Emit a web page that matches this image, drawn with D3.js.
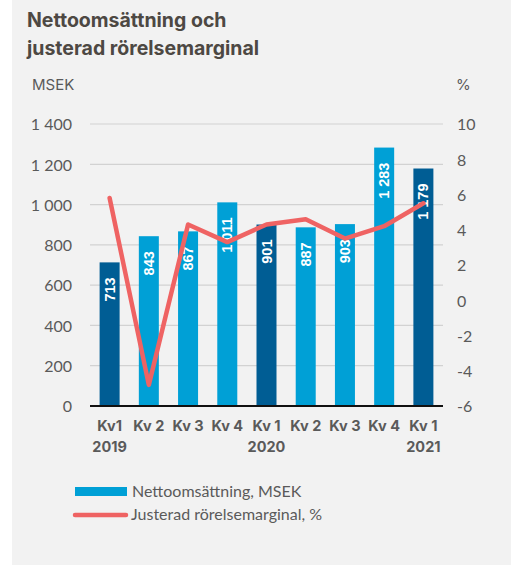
<!DOCTYPE html>
<html lang="sv">
<head>
<meta charset="UTF-8">
<title>Nettoomsättning och justerad rörelsemarginal</title>
<script src="https://cdnjs.cloudflare.com/ajax/libs/d3/7.8.5/d3.min.js"></script>
<style>
  body { margin: 0; background: #fff; }
  svg { display: block; }
  .tick text { font-family: Lato, "Open Sans", sans-serif; }
</style>
</head>
<body>
<svg width="511" height="565"></svg>
<script>
// data
var quarters = ["Kv1", "Kv 2", "Kv 3", "Kv 4", "Kv 1", "Kv 2", "Kv 3", "Kv 4", "Kv 1"];
var years = ["2019", "", "", "", "2020", "", "", "", "2021"];
var sales = [713, 843, 867, 1011, 901, 887, 903, 1283, 1179];
var salesLabels = ["713", "843", "867", "1 011", "901", "887", "903", "1 283", "1 179"];
var margin = [5.8, -4.8, 4.3, 3.3, 4.3, 4.6, 3.5, 4.2, 5.5];
var leftTicks = [0, 200, 400, 600, 800, 1000, 1200, 1400];
var rightTicks = [-6, -4, -2, 0, 2, 4, 6, 8, 10];

var svg = d3.select("svg");
var textColor = "#5a5a5a";

// panel background
svg.append("rect")
  .attr("x", 12).attr("y", 0)
  .attr("width", 499).attr("height", 565)
  .attr("fill", "#f2f2f2");

// title
var title = svg.append("text")
  .attr("font-family", "Inter, sans-serif")
  .attr("font-weight", "bold")
  .attr("font-size", 19.5)
  .attr("fill", "#4d4843");
title.append("tspan").attr("x", 27).attr("y", 27).text("Nettoomsättning och");
title.append("tspan").attr("x", 27).attr("y", 55).text("justerad rörelsemarginal");

var plotL = 90, plotR = 443, plotT = 124, plotB = 406;

var x = d3.scaleBand().domain(d3.range(quarters.length)).range([plotL, plotR]).paddingInner(0.49).paddingOuter(0.245);
var y = d3.scaleLinear().domain([0, 1400]).range([plotB, plotT]);
var y2 = d3.scaleLinear().domain([-6, 10]).range([plotB, plotT]);

// unit labels
svg.append("text").attr("x", 32).attr("y", 90)
  .attr("font-family", "Inter, sans-serif").attr("font-size", 15)
  .attr("fill", textColor).text("MSEK");
svg.append("text").attr("x", 456).attr("y", 90)
  .attr("font-family", "Inter, sans-serif").attr("font-size", 15)
  .attr("fill", textColor).text("%");

// gridlines
svg.append("g").selectAll("line")
  .data(leftTicks.slice(1))
  .join("line")
  .attr("x1", plotL).attr("x2", plotR)
  .attr("y1", d => y(d)).attr("y2", d => y(d))
  .attr("stroke", "#d2d2d2").attr("stroke-width", 1.2);

// left axis
var leftAxis = svg.append("g")
  .attr("transform", "translate(" + 72 + ",0)")
  .call(d3.axisLeft(y).tickValues(leftTicks).tickSize(0).tickPadding(0)
    .tickFormat(d => d3.format(",")(d).replace(",", " ")));
leftAxis.select(".domain").remove();
leftAxis.selectAll("text").attr("font-size", 16).attr("fill", textColor).attr("dy", "0.36em");

// right axis
var rightAxis = svg.append("g")
  .attr("transform", "translate(" + 457 + ",0)")
  .call(d3.axisRight(y2).tickValues(rightTicks).tickSize(0).tickPadding(0)
    .tickFormat(d => String(d)));
rightAxis.select(".domain").remove();
rightAxis.selectAll("text").attr("font-size", 16).attr("fill", textColor).attr("dy", "0.36em");

// bars
svg.append("g").selectAll("rect")
  .data(sales)
  .join("rect")
  .attr("x", (d, i) => x(i))
  .attr("y", d => y(d))
  .attr("width", x.bandwidth())
  .attr("height", d => plotB - y(d))
  .attr("fill", (d, i) => i % 4 === 0 ? "#005d94" : "#00a0d6");

// bar labels
svg.append("g").selectAll("text")
  .data(sales)
  .join("text")
  .attr("transform", (d, i) => "translate(" + (x(i) + x.bandwidth() / 2 + 5) + "," + (y(d) + 15) + ") rotate(-90)")
  .attr("text-anchor", "end")
  .attr("font-family", "Liberation Sans, Arial, sans-serif")
  .attr("font-weight", "bold")
  .attr("font-size", 14.5)
  .attr("fill", "#fff")
  .text((d, i) => salesLabels[i]);

// x axis line
svg.append("line")
  .attr("x1", plotL).attr("x2", plotR)
  .attr("y1", plotB).attr("y2", plotB)
  .attr("stroke", "#111").attr("stroke-width", 2);

// category labels
var cx = i => x(i) + x.bandwidth() / 2;
svg.append("g").selectAll("text")
  .data(quarters)
  .join("text")
  .attr("x", (d, i) => cx(i)).attr("y", 431)
  .attr("text-anchor", "middle")
  .attr("font-family", "Inter, sans-serif").attr("font-weight", "bold")
  .attr("font-size", 14.5).attr("fill", textColor)
  .text(d => d);
svg.append("g").selectAll("text")
  .data(years)
  .join("text")
  .attr("x", (d, i) => cx(i)).attr("y", 452)
  .attr("text-anchor", "middle")
  .attr("font-family", "Inter, sans-serif").attr("font-weight", "bold")
  .attr("font-size", 14.5).attr("fill", textColor)
  .text(d => d);

// margin line
var line = d3.line().x((d, i) => cx(i)).y(d => y2(d));
svg.append("path")
  .datum(margin)
  .attr("d", line)
  .attr("fill", "none")
  .attr("stroke", "#ef6363")
  .attr("stroke-width", 4.5)
  .attr("stroke-linejoin", "round")
  .attr("stroke-linecap", "round");

// legend
svg.append("rect")
  .attr("x", 75).attr("y", 487).attr("width", 52).attr("height", 9)
  .attr("fill", "#00a0d6");
svg.append("line")
  .attr("x1", 75).attr("x2", 126).attr("y1", 515).attr("y2", 515)
  .attr("stroke", "#ef6363").attr("stroke-width", 4.5).attr("stroke-linecap", "round");
svg.append("text").attr("x", 132).attr("y", 497)
  .attr("font-family", "Lato, sans-serif").attr("font-size", 16)
  .attr("fill", textColor).text("Nettoomsättning, MSEK");
svg.append("text").attr("x", 131).attr("y", 520)
  .attr("font-family", "Lato, sans-serif").attr("font-size", 16)
  .attr("fill", textColor).text("Justerad rörelsemarginal, %");
</script>
</body>
</html>
